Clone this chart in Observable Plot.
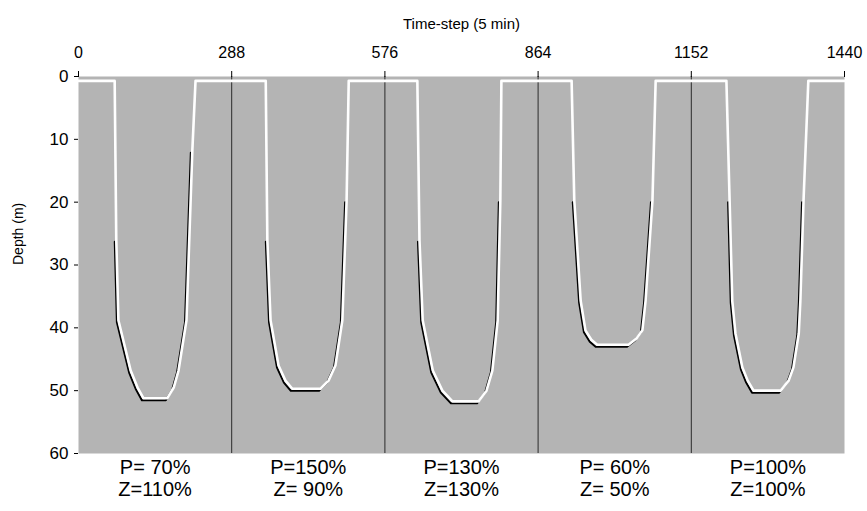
<!DOCTYPE html>
<html>
<head>
<meta charset="utf-8">
<script src="https://cdn.jsdelivr.net/npm/d3@7"></script>
<script src="https://cdn.jsdelivr.net/npm/@observablehq/plot@0.6"></script>
<style>
  html, body { margin: 0; padding: 0; background: #fff; }
  svg { display: block; }
</style>
</head>
<body>
<div id="chart"></div>
<script>
// Tick labels / bounds
const xTicks = [0, 288, 576, 864, 1152, 1440];
const yTicks = [0, 10, 20, 30, 40, 50, 60];
const dayBounds = [288, 576, 864, 1152];
const dayCenters = [144, 432, 720, 1008, 1296];
const pLabels = ["P= 70%", "P=150%", "P=130%", "P= 60%", "P=100%"];
const zLabels = ["Z=110%", "Z= 90%", "Z=130%", "Z= 50%", "Z=100%"];

// Depth trajectory (time-step, depth in m)
const timeStep = [
  0, 68, 71, 75, 98, 111, 122, 167, 179, 188, 203, 214, 220,
  352, 355, 361, 376, 389, 402, 455, 470, 483, 496, 504, 508,
  637, 641, 647, 666, 684, 703, 752, 767, 778, 788, 793, 795,
  927, 932, 944, 953, 964, 975, 1034, 1049, 1060, 1066, 1079, 1085,
  1218, 1224, 1229, 1235, 1248, 1258, 1269, 1320, 1335, 1344, 1354, 1357, 1363, 1372,
  1440
];
const depth = [
  0.7, 0.7, 26, 38.8, 46.8, 49.5, 51.2, 51.2, 49.5, 46.8, 38.8, 11.8, 0.7,
  0.7, 26, 38.8, 46, 48.4, 49.7, 49.7, 48.4, 46, 38.8, 19.7, 0.7,
  0.7, 26, 38.8, 46.8, 50, 51.7, 51.7, 50, 46.8, 38.8, 19.7, 0.7,
  0.7, 19.7, 35.7, 40.4, 41.9, 42.7, 42.7, 41.7, 40.4, 35.7, 19.7, 0.7,
  0.7, 19.7, 35.7, 40.9, 46.3, 48.4, 50, 50, 48.4, 46.3, 40.9, 35.7, 19.7, 0.7,
  0.7
];

const path = timeStep.map((t, i) => ({t, d: depth[i]}));
const dives = path.filter(p => p.d > 1);
const labels = dayCenters.map((c, i) => ({c, p: pLabels[i], z: zLabels[i]}));

const font = "'Liberation Sans', Arial, Helvetica, sans-serif";

const svg = Plot.plot({
  width: 867,
  height: 511,
  marginTop: 76,
  marginBottom: 58,
  marginLeft: 78,
  marginRight: 23,
  style: {fontFamily: font, color: "#000", background: "#fff"},
  x: {domain: [0, 1440]},
  y: {domain: [0, 60], reverse: true},
  marks: [
    Plot.frame({fill: "#b4b4b4", stroke: null}),
    Plot.ruleX(dayBounds, {stroke: "#2a2a2a", strokeWidth: 1}),
    Plot.line(dives, {x: "t", y: "d", z: p => Math.floor(p.t / 288), stroke: "#000", strokeWidth: 2, dx: -1.5, dy: 2}),
    Plot.line(path, {x: "t", y: "d", stroke: "#fff", strokeWidth: 2.6}),
    Plot.axisX({anchor: "top", ticks: xTicks, tickSize: 6, tickPadding: 13, fontSize: 16,
      tickFormat: d => String(d), label: null}),
    Plot.axisY({anchor: "left", ticks: yTicks, tickSize: 4, tickPadding: 6, fontSize: 17,
      tickFormat: d => String(d), label: null}),
    Plot.text(["Time-step (5 min)"], {frameAnchor: "top", dy: -58, fontSize: 15}),
    Plot.text(["Depth (m)"], {frameAnchor: "left", dx: -60, rotate: -90, fontSize: 14}),
    Plot.text(labels, {x: "c", frameAnchor: "bottom", text: "p", dy: 20, fontSize: 20}),
    Plot.text(labels, {x: "c", frameAnchor: "bottom", text: "z", dy: 42, fontSize: 20})
  ]
});

document.getElementById("chart").appendChild(svg);
</script>
</body>
</html>
